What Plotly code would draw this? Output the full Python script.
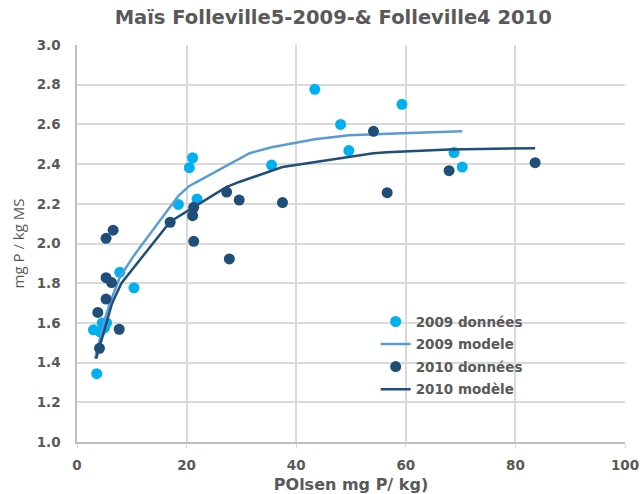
import plotly.graph_objects as go

# 2009 field data (Folleville 5)
x_2009 = [3.6, 3.0, 4.2, 4.6, 5.4, 5.0, 7.8, 10.4, 18.5, 20.5, 21.1, 21.9,
          35.5, 43.4, 48.1, 49.6, 59.3, 68.8, 70.3]
y_2009 = [1.344, 1.565, 1.555, 1.60, 1.60, 1.575, 1.855, 1.777, 2.197, 2.382, 2.432, 2.224,
          2.395, 2.777, 2.60, 2.468, 2.701, 2.458, 2.385]

# 2009 model curve
xm_2009 = [3.3, 4.5, 5.0, 6.0, 7.8, 10.4, 18.5, 20.5, 21.1, 21.9, 31.5,
           35.5, 43.4, 48.1, 49.6, 59.3, 68.8, 70.3]
ym_2009 = [1.42, 1.55, 1.61, 1.70, 1.83, 1.94, 2.24, 2.29, 2.30, 2.31, 2.455,
           2.485, 2.525, 2.54, 2.545, 2.555, 2.562, 2.565]

# 2010 field data (Folleville 4)
x_2010 = [3.8, 4.1, 5.3, 5.3, 6.3, 5.3, 6.6, 7.7, 17.0, 21.3, 21.1, 21.3,
          27.3, 27.8, 29.6, 37.5, 54.1, 56.6, 67.9, 83.6]
y_2010 = [1.653, 1.472, 1.72, 1.828, 1.803, 2.026, 2.067, 1.568, 2.107, 2.011, 2.14, 2.182,
          2.259, 1.922, 2.219, 2.206, 2.565, 2.256, 2.367, 2.407]

# 2010 model curve
xm_2010 = [3.5, 4.1, 5.3, 6.3, 6.6, 8.1, 17.0, 21.1, 21.3, 27.3, 27.8, 29.6,
           37.5, 54.1, 56.6, 67.9, 83.6]
ym_2010 = [1.42, 1.48, 1.60, 1.69, 1.71, 1.80, 2.11, 2.18, 2.185, 2.285, 2.29, 2.31,
           2.385, 2.455, 2.46, 2.474, 2.48]

LIGHT_PT = "#00B0F0"
LIGHT_LN = "#5B9BD5"
DARK = "#1F4E79"
GREY = "#595959"
BOLD_FONT = "DejaVu Sans"
TEXT_FONT = "Open Sans"

fig = go.Figure()
fig.add_trace(go.Scatter(x=x_2009, y=y_2009, mode="markers", name="2009 données",
                         legendgroup="d2009",
                         marker=dict(color=LIGHT_PT, size=11)))
fig.add_trace(go.Scatter(x=xm_2009, y=ym_2009, mode="lines", name="2009 modele",
                         legendgroup="m2009",
                         line=dict(color=LIGHT_LN, width=2.5)))
fig.add_trace(go.Scatter(x=x_2010, y=y_2010, mode="markers", name="2010 données",
                         legendgroup="d2010",
                         marker=dict(color=DARK, size=11)))
fig.add_trace(go.Scatter(x=xm_2010, y=ym_2010, mode="lines", name="2010 modèle",
                         legendgroup="m2010",
                         line=dict(color=DARK, width=2.5)))

tick_font = dict(size=13.5, color=GREY, family=BOLD_FONT, weight="bold")

fig.update_layout(
    width=642, height=494,
    margin=dict(l=77, r=17, t=45, b=52),
    paper_bgcolor="white", plot_bgcolor="white",
    title=dict(text="<b>Maïs Folleville5-2009-& Folleville4 2010</b>",
               x=0.519, xanchor="center", y=0.965, yanchor="middle",
               font=dict(family=BOLD_FONT, size=19.5, color=GREY)),
    font=dict(family=BOLD_FONT, color=GREY),
    legend=dict(x=0.545, y=0.342, xanchor="left", yanchor="top",
                bgcolor="rgba(0,0,0,0)", tracegroupgap=2,
                font=dict(size=13.5, color=GREY, family=BOLD_FONT, weight="bold"),
                traceorder="grouped"),
    showlegend=True,
)
fig.update_xaxes(range=[0, 100], dtick=20, showgrid=True, gridcolor="#D9D9D9", gridwidth=1.5,
                 showline=True, linecolor="#BFBFBF", linewidth=1.5, zeroline=False,
                 ticks="outside", tickcolor="#D9D9D9", ticklen=4, automargin=False,
                 ticklabelstandoff=6, tickfont=tick_font,
                 title=dict(text="<b>POlsen mg P/ kg)</b>",
                            font=dict(size=16, color=GREY, family=BOLD_FONT),
                            standoff=12))
fig.update_yaxes(range=[1.0, 3.0], dtick=0.2, tickformat=".1f", showgrid=True,
                 gridcolor="#D9D9D9", gridwidth=1.5, automargin=False,
                 showline=True, linecolor="#BFBFBF", linewidth=1.5, zeroline=False,
                 ticklabelstandoff=12, tickfont=tick_font,
                 title=dict(text="mg P / kg MS",
                            font=dict(size=15, color=GREY, family=TEXT_FONT),
                            standoff=8))

fig.write_html("out.html")
